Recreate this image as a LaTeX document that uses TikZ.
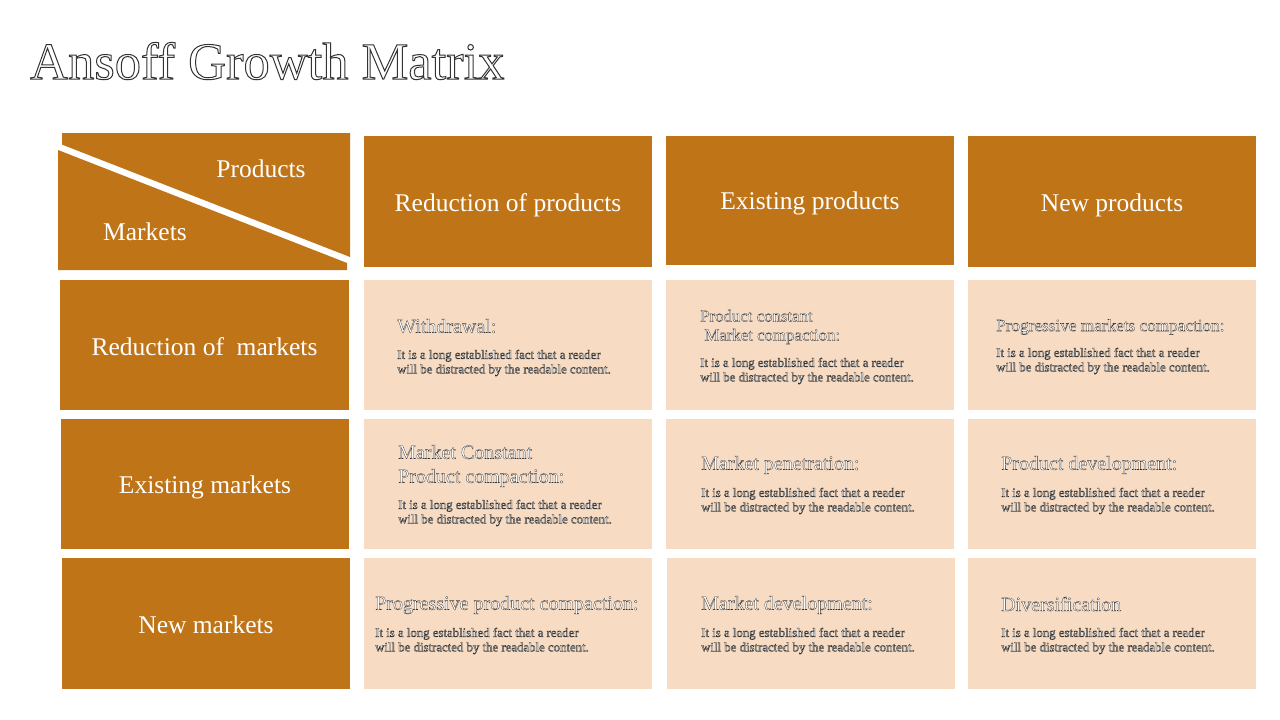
\documentclass[tikz,border=0pt]{standalone}
\usepackage{fontspec}
\setmainfont{Liberation Serif}
\definecolor{orng}{HTML}{BF7418}
\definecolor{peach}{HTML}{F7DCC3}
\newcommand\outl[2][0.3]{\special{pdf:literal direct 0.2 0.2 0.2 RG #1 w 2 Tr}#2\special{pdf:literal direct 0 Tr}}
\newcommand\bodytxt{\outl[0.4]{It is a long established fact that a reader\\will be distracted by the readable content.}}
\tikzset{
  hdr/.style={fill=orng, draw=none, inner sep=0pt, minimum width=288pt},
  hlabel/.style={text=white, inner sep=0pt, font=\fontsize{25.5}{30}\selectfont},
  cellbox/.style={fill=peach, draw=none, inner sep=0pt, minimum width=288pt, minimum height=130pt},
  ctitle/.style={anchor=west, inner sep=0pt, text=white, align=left, font=\fontsize{20}{24}\selectfont},
  cbody/.style={anchor=west, inner sep=0pt, text=white, align=left, font=\fontsize{12.8}{14.5}\selectfont},
}
\begin{document}
\begin{tikzpicture}[x=1pt,y=-1pt]
\useasboundingbox (0,0) rectangle (1280,720);
\fill[white] (0,0) rectangle (1280,720);
% title
\node[anchor=west, inner sep=0pt, text=white, font=\fontsize{52.5}{60}\selectfont] (title) at (30,61) {\outl[1.0]{Ansoff Growth Matrix}};
% corner
\fill[orng] (62,133) -- (350,133) -- (350,257) -- (62,144.6) -- cycle;
\fill[orng] (58,150) -- (347,263) -- (347,270) -- (58,270) -- cycle;
\node[hlabel] (prod) at (261,169) {Products};
\node[hlabel] (mark) at (145,232) {Markets};
% column headers
\node[hdr, minimum height=131pt] (h1) at (508,201.5) {};
\node[hdr, minimum height=129pt] (h2) at (810,200.5) {};
\node[hdr, minimum height=131pt] (h3) at (1112,201.5) {};
\node[hlabel] (h1t) at (508,205) {Reduction of products};
\node[hlabel] (h2t) at (810,203) {Existing products};
\node[hlabel] (h3t) at (1112,205) {New products};
% row headers
\node[hdr, minimum width=289pt, minimum height=130pt] (r1) at (204.5,345) {};
\node[hdr, minimum height=130pt] (r2) at (205,484) {};
\node[hdr, minimum height=131pt] (r3) at (206,623.5) {};
\node[hlabel] (r1t) at (204.5,347) {Reduction of \ markets};
\node[hlabel] (r2t) at (205,487) {Existing markets};
\node[hlabel] (r3t) at (206,625) {New markets};
% cells
\node[cellbox] (c11) at (508,345) {};
\node[cellbox] (c12) at (810,345) {};
\node[cellbox] (c13) at (1112,345) {};
\node[cellbox] (c21) at (508,484) {};
\node[cellbox] (c22) at (810,484) {};
\node[cellbox] (c23) at (1112,484) {};
\node[cellbox, minimum height=131pt] (c31) at (508,623.5) {};
\node[cellbox, minimum height=131pt] (c32) at (811,623.5) {};
\node[cellbox, minimum height=131pt] (c33) at (1112,623.5) {};
% cell texts
\node[ctitle] (t11) at (397,326) {\outl{Withdrawal:}};
\node[cbody] (b11) at (397,363) {\bodytxt};
\node[ctitle, font=\fontsize{16.8}{19}\selectfont] (t12) at (700,327) {\outl{Product constant\\\ Market compaction:}};
\node[cbody] (b12) at (700,371) {\bodytxt};
\node[ctitle, font=\fontsize{17.2}{19}\selectfont] (t13) at (996,327) {\outl{Progressive markets compaction:}};
\node[cbody] (b13) at (996,361) {\bodytxt};
\node[ctitle] (t21) at (398,466) {\outl{Market Constant\\Product compaction:}};
\node[cbody] (b21) at (398,513) {\bodytxt};
\node[ctitle] (t22) at (701,465) {\outl{Market penetration:}};
\node[cbody] (b22) at (701,501) {\bodytxt};
\node[ctitle] (t23) at (1001,465) {\outl{Product development:}};
\node[cbody] (b23) at (1001,501) {\bodytxt};
\node[ctitle] (t31) at (375,605) {\outl{Progressive product compaction:}};
\node[cbody] (b31) at (375,641) {\bodytxt};
\node[ctitle] (t32) at (701,605) {\outl{Market development:}};
\node[cbody] (b32) at (701,641) {\bodytxt};
\node[ctitle] (t33) at (1001,604) {\outl{Diversification}};
\node[cbody] (b33) at (1001,641) {\bodytxt};
\end{tikzpicture}
\end{document}
